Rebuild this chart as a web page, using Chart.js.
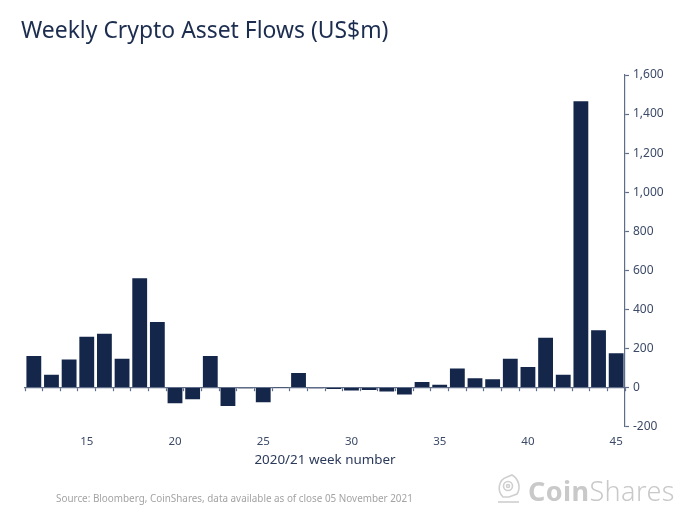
<!DOCTYPE html>
<html>
<head>
<meta charset="utf-8">
<title>Weekly Crypto Asset Flows</title>
<script src="https://cdn.jsdelivr.net/npm/chart.js@4/dist/chart.umd.min.js"></script>
<style>
  html, body { margin: 0; padding: 0; background: #fff; }
  #wrap { position: relative; width: 683px; height: 514px; overflow: hidden; font-family: "Noto Sans", sans-serif; }
  #flowChart { position: absolute; left: 0; top: 0; }
  #heading { position: absolute; left: 21px; top: 14px; font-size: 22.9px; color: #1c2d4f; white-space: nowrap; }
  #source { position: absolute; left: 56px; top: 491px; font-size: 9.9px; color: #a3a3a3; white-space: nowrap; }
  #logo { position: absolute; left: 497px; top: 472px; width: 180px; height: 36px; color: #c9c9c9; }
  #logo svg { position: absolute; left: 0; top: 2px; }
  #logo span { position: absolute; left: 31px; top: 0; font-size: 27px; white-space: nowrap; letter-spacing: 0.4px; }
  #logo b { font-weight: 700; }
  #logo i { font-style: normal; font-weight: 300; }
</style>
</head>
<body>
<div id="wrap">
  <canvas id="flowChart" width="683" height="514"></canvas>
  <div id="heading">Weekly Crypto Asset Flows (US$m)</div>
  <div id="source">Source: Bloomberg, CoinShares, data available as of close 05 November 2021</div>
  <div id="logo">
    <svg width="24" height="30" viewBox="0 0 24 30" fill="none" stroke="#cfcfcf" stroke-width="1.6">
      <path d="M6 23 C0 17 1 6 10 3 L15 1 C22 5 24 14 20 20 L12 23 Z"/>
      <circle cx="11" cy="12" r="4.5"/>
      <circle cx="11" cy="12" r="1.5"/>
      <path d="M1 28 H22"/>
    </svg>
    <span><b>Coin</b><i>Shares</i></span>
  </div>
</div>
<script>
const weeks = [12, 13, 14, 15, 16, 17, 18, 19, 20, 21, 22, 23, 24, 25, 26, 27, 28,
               29, 30, 31, 32, 33, 34, 35, 36, 37, 38, 39, 40, 41, 42, 43, 44, 45];
const flows = [162, 66, 143, 260, 275, 148, 560, 335, -80, -60, 162, -95, -3, -75, -1, 75, -3,
               -8, -15, -12, -20, -35, 28, 14, 98, 47, 42, 148, 105, 255, 66, 1465, 293, 175];
const weekLabels = weeks.map(String);
const labeledWeeks = ['15', '20', '25', '30', '35', '40', '45'];

const navy = '#14264a';
const axisGrey = '#5f6d88';
const labelColor = '#3c4a68';

new Chart(document.getElementById('flowChart'), {
    type: 'bar',
    data: {
        labels: weekLabels,
        datasets: [{
            data: flows,
            backgroundColor: navy,
            barPercentage: 0.84,
            categoryPercentage: 1,
            xAxisID: 'x',
            yAxisID: 'y'
        }]
    },
    options: {
        responsive: false,
        animation: false,
        layout: { padding: { left: 25, top: 75, bottom: 46 } },
        plugins: {
            legend: { display: false },
            tooltip: { enabled: false }
        },
        scales: {
            // ticks along the zero line
            x: {
                type: 'category',
                position: { y: 0 },
                offset: true,
                grid: { offset: true, drawOnChartArea: false, tickLength: 3, tickColor: axisGrey, tickWidth: 1.2 },
                border: { color: axisGrey, width: 1.2 },
                ticks: { display: false }
            },
            // week labels under the plot
            xLabels: {
                type: 'category',
                axis: 'x',
                position: 'bottom',
                labels: weekLabels,
                offset: true,
                grid: { display: false },
                border: { display: false },
                ticks: {
                    autoSkip: false,
                    maxRotation: 0,
                    padding: 0,
                    color: labelColor,
                    font: { family: '"Noto Sans"', size: 11.5 },
                    callback: function (value) {
                        const lab = this.getLabelForValue(value);
                        return labeledWeeks.includes(lab) ? lab : '';
                    }
                },
                title: {
                    display: true,
                    text: '2020/21 week number',
                    color: '#2b3a5a',
                    font: { family: '"Noto Sans"', size: 13.4 },
                    padding: { top: 3.5, bottom: 0 }
                }
            },
            y: {
                position: 'right',
                min: -200,
                max: 1600,
                grid: { drawOnChartArea: false, tickLength: 4, tickColor: axisGrey, tickWidth: 1.2 },
                border: { color: axisGrey, width: 1.2 },
                ticks: {
                    stepSize: 200,
                    padding: 4,
                    color: labelColor,
                    font: { family: '"Noto Sans"', size: 12 }
                },
                afterFit: function (scale) { scale.width = 58; }
            }
        }
    }
});
</script>
</body>
</html>
